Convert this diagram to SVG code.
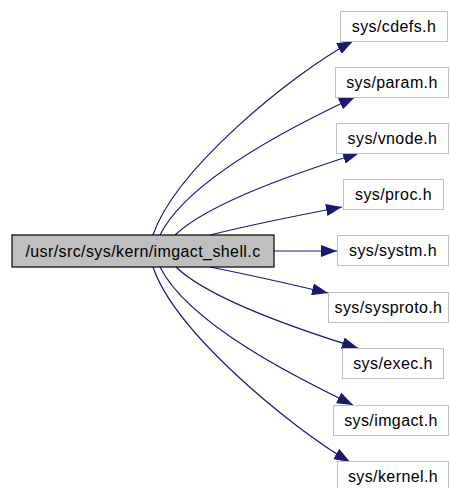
<svg xmlns="http://www.w3.org/2000/svg" width="450" height="488" viewBox="0 0 450 488">
  <style>
    .node-main rect { fill: #bfbfbf; stroke: #000000; stroke-width: 1.2; }
    .node rect { fill: #ffffff; stroke: #bfbfbf; stroke-width: 1; }
    text { font-family: "Liberation Sans", Arial, Helvetica, sans-serif; font-size: 16px; letter-spacing: 0.4px; fill: #000000; text-anchor: middle; }
    .edge { fill: none; stroke: #191970; stroke-width: 1.2; marker-end: url(#arrow); }
  </style>
  <defs>
    <marker id="arrow" markerUnits="userSpaceOnUse" markerWidth="16" markerHeight="12" viewBox="0 0 16 12" refX="16" refY="6" orient="auto">
      <path d="M0,0 L16,6 L0,12 Z" fill="#191970"/>
    </marker>
  </defs>
  <rect width="450" height="488" fill="#ffffff"/>

  <g id="connectors">
    <path class="edge" d="M153,235 C175,170 290,75 353,41"/>
    <path class="edge" d="M160,235 C190,175 310,118 355,97"/>
    <path class="edge" d="M175,235 C210,202 300,172 359,153"/>
    <path class="edge" d="M210,235 C250,225 300,215 342,207"/>
    <path class="edge" d="M274,251 L337,251"/>
    <path class="edge" d="M210,267 C250,275 290,284 328,293"/>
    <path class="edge" d="M176,267 C210,300 300,330 358,348"/>
    <path class="edge" d="M160,267 C190,327 310,384 353,405"/>
    <path class="edge" d="M153,267 C175,332 290,427 350,462"/>
  </g>

  <g id="imgact_shell_c" class="node-main">
    <rect x="12" y="235" width="262" height="32"/>
    <text x="143" y="257">/usr/src/sys/kern/imgact_shell.c</text>
  </g>
  <g id="sys_cdefs_h" class="node">
    <rect x="340.5" y="11.5" width="107" height="30"/>
    <text x="394" y="31.5">sys/cdefs.h</text>
  </g>
  <g id="sys_param_h" class="node">
    <rect x="335.5" y="67.5" width="113" height="30"/>
    <text x="392" y="87.5">sys/param.h</text>
  </g>
  <g id="sys_vnode_h" class="node">
    <rect x="336.5" y="123.5" width="112" height="30"/>
    <text x="392.5" y="143.5">sys/vnode.h</text>
  </g>
  <g id="sys_proc_h" class="node">
    <rect x="343.5" y="179.5" width="100" height="30"/>
    <text x="393.5" y="199.5">sys/proc.h</text>
  </g>
  <g id="sys_systm_h" class="node">
    <rect x="337.5" y="235.5" width="111" height="30"/>
    <text x="393" y="255.5">sys/systm.h</text>
  </g>
  <g id="sys_sysproto_h" class="node">
    <rect x="328.5" y="292.5" width="120" height="30"/>
    <text x="388.5" y="312.5">sys/sysproto.h</text>
  </g>
  <g id="sys_exec_h" class="node">
    <rect x="342.5" y="348.5" width="101" height="30"/>
    <text x="393" y="368.5">sys/exec.h</text>
  </g>
  <g id="sys_imgact_h" class="node">
    <rect x="333.5" y="405.5" width="115" height="30"/>
    <text x="391" y="425.5">sys/imgact.h</text>
  </g>
  <g id="sys_kernel_h" class="node">
    <rect x="337.5" y="461.5" width="111" height="30"/>
    <text x="393" y="481.5">sys/kernel.h</text>
  </g>
</svg>
